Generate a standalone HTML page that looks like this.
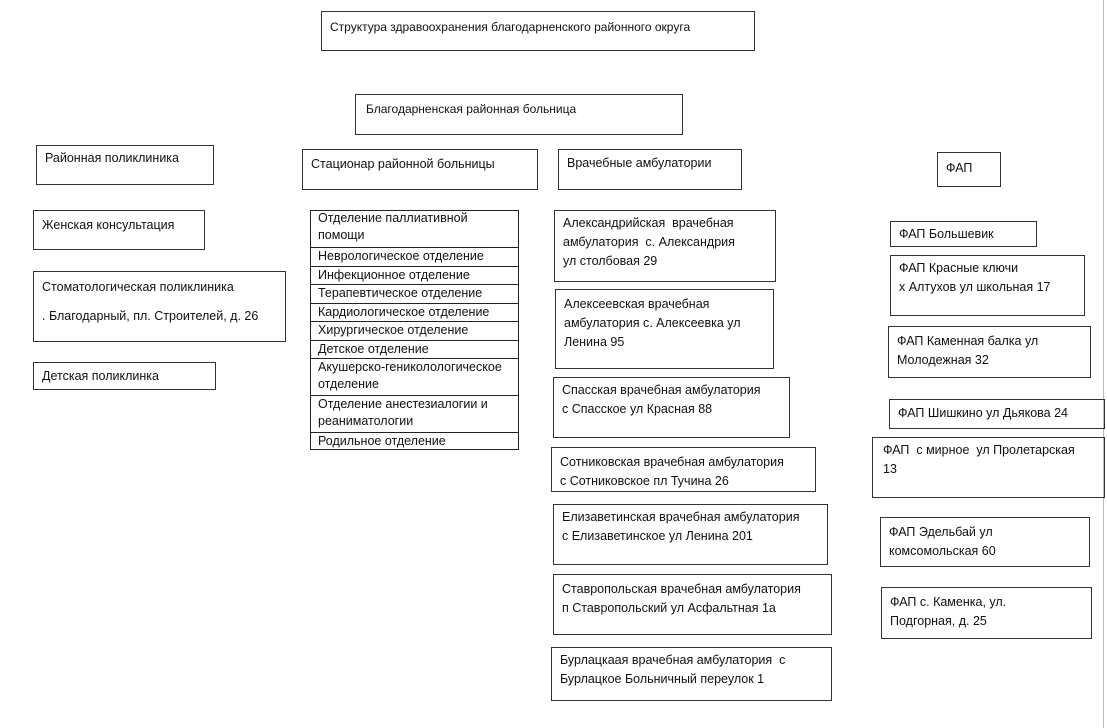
<!DOCTYPE html>
<html><head><meta charset="utf-8"><style>
html,body{margin:0;padding:0;background:#fff;}
body{width:1107px;height:728px;position:relative;overflow:hidden;font-family:"Liberation Sans","DejaVu Sans",sans-serif;color:#111;}
.b{position:absolute;border:1.5px solid #333;box-sizing:border-box;font-size:12.5px;line-height:19px;padding:3px 0 0 8px;white-space:nowrap;}
.t{position:absolute;border:1.5px solid #222;box-sizing:border-box;left:310px;top:210px;width:209px;height:240px;font-size:12.5px;}
.r{position:absolute;left:0;right:0;border-top:1px solid #222;padding-left:7px;line-height:17px;}
.vl{position:absolute;left:1103px;top:0;width:1px;height:728px;background:#bbb;}
</style></head><body>
<div class="vl"></div>
<div class="b" style="left:321px;top:11px;width:434px;height:40px;font-size:12px;padding-top:6px;">Структура здравоохранения благодарненского районного округа</div>
<div class="b" style="left:355px;top:94px;width:328px;height:41px;font-size:12px;padding-top:5px;padding-left:10px;">Благодарненская районная больница</div>

<div class="b" style="left:36px;top:145px;width:178px;height:40px;">Районная поликлиника</div>
<div class="b" style="left:302px;top:149px;width:236px;height:41px;padding-top:5px;">Стационар районной больницы</div>
<div class="b" style="left:558px;top:149px;width:184px;height:41px;padding-top:4px;">Врачебные амбулатории</div>
<div class="b" style="left:937px;top:152px;width:64px;height:35px;padding-top:6px;">ФАП</div>

<div class="b" style="left:33px;top:210px;width:172px;height:40px;padding-top:5px;">Женская консультация</div>
<div class="b" style="left:33px;top:271px;width:253px;height:71px;padding-top:1px;line-height:29px;">Стоматологическая поликлиника<br>. Благодарный, пл. Строителей, д. 26</div>
<div class="b" style="left:33px;top:362px;width:183px;height:28px;padding-top:4px;">Детская поликлинка</div>

<div class="t">
<div class="r" style="top:-1px;border-top:none;height:36px;">Отделение паллиативной<br>помощи</div>
<div class="r" style="top:36px;">Неврологическое отделение</div>
<div class="r" style="top:55px;">Инфекционное отделение</div>
<div class="r" style="top:73px;">Терапевтическое отделение</div>
<div class="r" style="top:92px;">Кардиологическое отделение</div>
<div class="r" style="top:110px;">Хирургическое отделение</div>
<div class="r" style="top:129px;">Детское отделение</div>
<div class="r" style="top:147px;">Акушерско-гениколологическое<br>отделение</div>
<div class="r" style="top:184px;">Отделение анестезиалогии и<br>реаниматологии</div>
<div class="r" style="top:221px;">Родильное отделение</div>
</div>

<div class="b" style="left:554px;top:210px;width:222px;height:72px;">Александрийская&nbsp; врачебная<br>амбулатория&nbsp; с. Александрия<br>ул столбовая 29</div>
<div class="b" style="left:555px;top:289px;width:219px;height:80px;padding-top:5px;">Алексеевская врачебная<br>амбулатория с. Алексеевка ул<br>Ленина 95</div>
<div class="b" style="left:553px;top:377px;width:237px;height:61px;">Спасская врачебная амбулатория<br>с Спасское ул Красная 88</div>
<div class="b" style="left:551px;top:447px;width:265px;height:45px;padding-top:5px;">Сотниковская врачебная амбулатория<br>с Сотниковское пл Тучина 26</div>
<div class="b" style="left:553px;top:504px;width:275px;height:61px;">Елизаветинская врачебная амбулатория<br>с Елизаветинское ул Ленина 201</div>
<div class="b" style="left:553px;top:574px;width:279px;height:61px;padding-top:5px;">Ставропольская врачебная амбулатория<br>п Ставропольский ул Асфальтная 1а</div>
<div class="b" style="left:551px;top:647px;width:281px;height:54px;">Бурлацкаая врачебная амбулатория&nbsp; с<br>Бурлацкое Больничный переулок 1</div>

<div class="b" style="left:890px;top:221px;width:147px;height:26px;padding-top:3px;">ФАП Большевик</div>
<div class="b" style="left:890px;top:255px;width:195px;height:61px;">ФАП Красные ключи<br>х Алтухов ул школьная 17</div>
<div class="b" style="left:888px;top:326px;width:203px;height:52px;padding-top:5px;">ФАП Каменная балка ул<br>Молодежная 32</div>
<div class="b" style="left:889px;top:399px;width:216px;height:30px;padding-top:4px;">ФАП Шишкино ул Дьякова 24</div>
<div class="b" style="left:872px;top:437px;width:233px;height:61px;padding-left:10px;">ФАП&nbsp; с мирное&nbsp; ул Пролетарская<br>13</div>
<div class="b" style="left:880px;top:517px;width:210px;height:50px;padding-top:5px;">ФАП Эдельбай ул<br>комсомольская 60</div>
<div class="b" style="left:881px;top:587px;width:211px;height:52px;padding-top:5px;">ФАП с. Каменка, ул.<br>Подгорная, д. 25</div>
</body></html>
